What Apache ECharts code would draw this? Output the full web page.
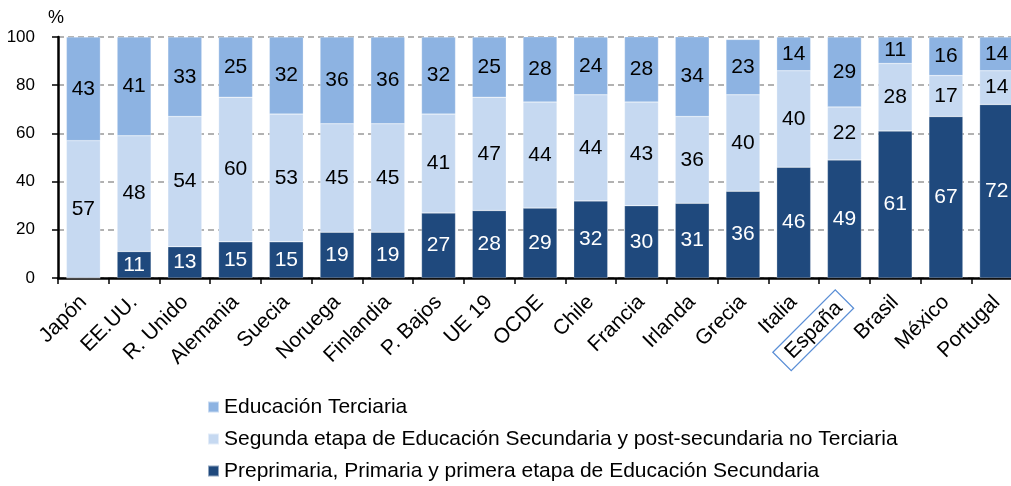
<!doctype html>
<html>
<head>
<meta charset="UTF-8">
<title></title>
<script src="https://cdn.jsdelivr.net/npm/echarts@6/dist/echarts.min.js"></script>
<style>
  html, body { margin: 0; padding: 0; background: #fff; }
  #chart { width: 1011px; height: 486px; }
</style>
</head>
<body>
<div id="chart"></div>
<script>
var paises = ['Japón', 'EE.UU.', 'R. Unido', 'Alemania', 'Suecia', 'Noruega', 'Finlandia', 'P. Bajos', 'UE 19', 'OCDE',
  'Chile', 'Francia', 'Irlanda', 'Grecia', 'Italia', 'España', 'Brasil', 'México', 'Portugal'];
var primaria = [0, 11, 13, 15, 15, 19, 19, 27, 28, 29, 32, 30, 31, 36, 46, 49, 61, 67, 72];
var secundaria = [57, 48, 54, 60, 53, 45, 45, 41, 47, 44, 44, 43, 36, 40, 40, 22, 28, 17, 14];
var terciaria = [43, 41, 33, 25, 32, 36, 36, 32, 25, 28, 24, 28, 34, 23, 14, 29, 11, 16, 14];
var yTicks = [0, 20, 40, 60, 80, 100];

var nombres = ['Educación Terciaria',
  'Segunda etapa de Educación Secundaria y post-secundaria no Terciaria',
  'Preprimaria, Primaria y primera etapa de Educación Secundaria'];
var colores = ['#8db3e2', '#c6d9f1', '#1f497d'];
var fuente = '"Liberation Sans", Arial, sans-serif';

function serie(name, data, color, txt) {
  return {
    name: name,
    type: 'bar',
    stack: 'total',
    barWidth: '67%',
    data: data,
    itemStyle: { color: color, borderColor: 'rgba(255,255,255,0.5)', borderWidth: 0.5 },
    label: {
      show: true,
      position: 'inside',
      color: txt,
      fontSize: 21,
      fontFamily: fuente,
      formatter: function (p) { return p.value ? p.value : ''; }
    }
  };
}

var chart = echarts.init(document.getElementById('chart'));
chart.setOption({
  animation: false,
  grid: { left: 58, width: 964, top: 37, bottom: 208, outerBoundsMode: 'none', containLabel: false },
  legend: {
    orient: 'vertical',
    left: 207,
    top: 396,
    padding: 0,
    itemWidth: 11,
    itemHeight: 11,
    itemGap: 10,
    icon: 'rect',
    data: nombres,
    textStyle: { fontSize: 21, fontFamily: fuente, color: '#000', lineHeight: 22 }
  },
  xAxis: {
    type: 'category',
    data: paises,
    axisLine: { lineStyle: { color: '#000', width: 2.5 } },
    axisTick: { show: true, length: 6, lineStyle: { color: '#000', width: 1.5 } },
    axisLabel: {
      rotate: 45,
      interval: 0,
      margin: 21,
      fontSize: 21,
      fontFamily: fuente,
      color: '#000',
      formatter: function (v) { return v === 'España' ? '{box|' + v + '}' : v; },
      rich: {
        box: {
          fontSize: 21,
          fontFamily: fuente,
          color: '#000',
          borderColor: '#5b8fd6',
          borderWidth: 1.3,
          padding: [3, 8, 2, 9]
        }
      }
    }
  },
  yAxis: {
    type: 'value',
    min: yTicks[0],
    max: yTicks[yTicks.length - 1],
    interval: 20,
    name: '%',
    nameLocation: 'end',
    nameGap: 10,
    nameTextStyle: { fontSize: 18, fontFamily: fuente, color: '#000', align: 'center', padding: [0, 4, 0, 0] },
    axisLine: { show: true, lineStyle: { color: '#000', width: 2.5 } },
    axisTick: { show: true, length: 6, lineStyle: { color: '#000', width: 1.5 } },
    axisLabel: { fontSize: 17, fontFamily: fuente, color: '#000', margin: 23 },
    splitLine: { show: true, lineStyle: { color: '#999', type: [6, 4], width: 1.5 } }
  },
  series: [
    serie(nombres[2], primaria, colores[2], '#fff'),
    serie(nombres[1], secundaria, colores[1], '#000'),
    serie(nombres[0], terciaria, colores[0], '#000')
  ]
});
</script>
</body>
</html>
